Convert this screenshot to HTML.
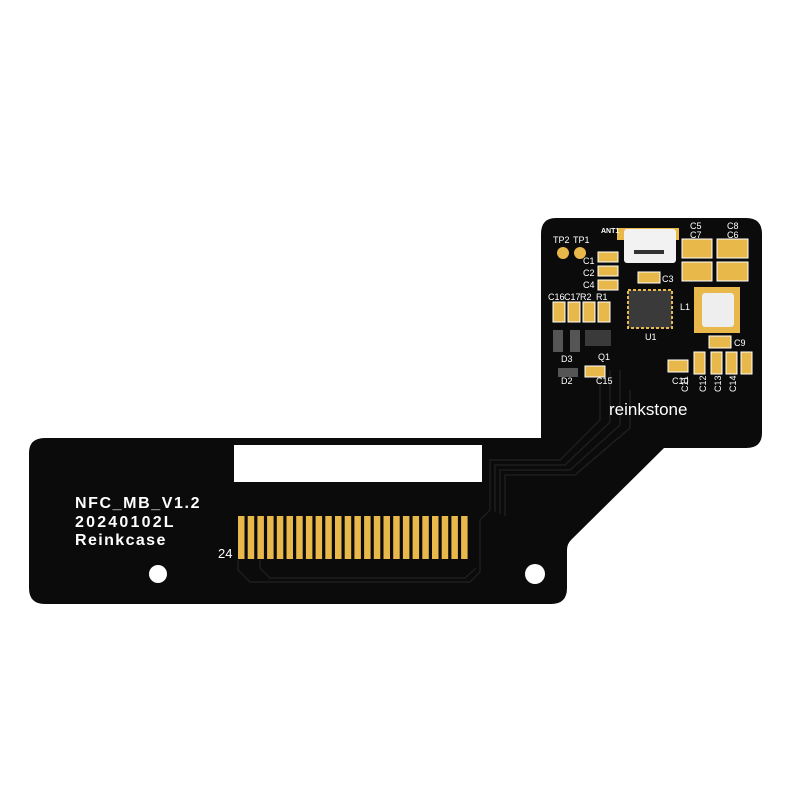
<!DOCTYPE html>
<html><head><meta charset="utf-8"><style>html,body{margin:0;padding:0;background:#fff}svg{display:block}</style></head>
<body>
<svg width="800" height="800" viewBox="0 0 800 800" xmlns="http://www.w3.org/2000/svg" font-family="Liberation Sans, sans-serif">
<path d="M556 218 H746 Q762 218 762 234 V433 Q762 448 746 448 H664 L571 540 Q567 544 567 550 V588 Q567 604 551 604 H45 Q29 604 29 588 V453 Q29 438 45 438 H541 V234 Q541 218 556 218 Z" fill="#0b0b0b"/>
<g fill="none" stroke="#1e1e1e" stroke-width="1.5">
<path d="M600 370 V420 L560 460 H490 V510 L480 520"/>
<path d="M610 370 V422 L565 465 H495 V512"/>
<path d="M620 370 V425 L570 470 H500 V514"/>
<path d="M630 390 V428 L575 475 H505 V516"/>
<path d="M238 560 V570 L250 582 H470 L480 572 V520"/>
<path d="M260 560 V568 L270 578 H465 L476 568"/>
</g>
<rect x="234" y="445" width="248" height="37" fill="#fff"/>
<g fill="#e8b84a">
<rect x="238" y="516" width="6.5" height="43"/><rect x="247.7" y="516" width="6.5" height="43"/><rect x="257.4" y="516" width="6.5" height="43"/><rect x="267.1" y="516" width="6.5" height="43"/><rect x="276.8" y="516" width="6.5" height="43"/><rect x="286.5" y="516" width="6.5" height="43"/><rect x="296.2" y="516" width="6.5" height="43"/><rect x="305.9" y="516" width="6.5" height="43"/><rect x="315.6" y="516" width="6.5" height="43"/><rect x="325.3" y="516" width="6.5" height="43"/><rect x="335" y="516" width="6.5" height="43"/><rect x="344.7" y="516" width="6.5" height="43"/><rect x="354.4" y="516" width="6.5" height="43"/><rect x="364.1" y="516" width="6.5" height="43"/><rect x="373.8" y="516" width="6.5" height="43"/><rect x="383.5" y="516" width="6.5" height="43"/><rect x="393.2" y="516" width="6.5" height="43"/><rect x="402.9" y="516" width="6.5" height="43"/><rect x="412.6" y="516" width="6.5" height="43"/><rect x="422.3" y="516" width="6.5" height="43"/><rect x="432" y="516" width="6.5" height="43"/><rect x="441.7" y="516" width="6.5" height="43"/><rect x="451.4" y="516" width="6.5" height="43"/><rect x="461.1" y="516" width="6.5" height="43"/>
</g>
<circle cx="158" cy="574" r="9" fill="#fff"/><circle cx="535" cy="574" r="10" fill="#fff"/>
<g fill="#fff" font-weight="bold">
<text x="75" y="508" font-size="16" letter-spacing="1.6">NFC_MB_V1.2</text>
<text x="75" y="527" font-size="16" letter-spacing="2.2">20240102L</text>
<text x="75" y="545" font-size="16" letter-spacing="1.4">Reinkcase</text>
</g>
<text x="218" y="558" fill="#fff" font-size="13">24</text>
<text x="609" y="415" fill="#fff" font-size="17">reinkstone</text>
<rect x="617" y="228" width="62" height="12" fill="#e8b84a"/>
<rect x="624" y="229" width="52" height="34" rx="3" fill="#f2f2f2"/>
<rect x="634" y="250" width="30" height="4" fill="#333"/>
<circle cx="563" cy="253" r="6" fill="#e8b84a"/><circle cx="580" cy="253" r="6" fill="#e8b84a"/>
<g fill="#fff" font-size="9"><text x="553" y="243">TP2</text><text x="573" y="243">TP1</text>
<text x="583" y="264">C1</text><text x="583" y="276">C2</text><text x="583" y="288">C4</text>
<text x="662" y="282">C3</text><text x="690" y="229">C5</text><text x="690" y="238">C7</text>
<text x="727" y="229">C8</text><text x="727" y="238">C6</text><text x="680" y="310">L1</text>
<text x="645" y="340">U1</text><text x="734" y="346">C9</text><text x="672" y="384">C10</text>
<text x="548" y="300">C16</text><text x="564" y="300">C17</text><text x="580" y="300">R2</text><text x="596" y="300">R1</text>
<text x="561" y="362">D3</text><text x="561" y="384">D2</text><text x="598" y="360">Q1</text><text x="596" y="384">C15</text>
<text x="601" y="233" font-size="7" font-weight="bold">ANT1</text></g>
<g fill="#e8b84a" stroke="#fff" stroke-width="1">
<rect x="598" y="252" width="20" height="10"/><rect x="598" y="266" width="20" height="10"/><rect x="598" y="280" width="20" height="10"/>
<rect x="638" y="272" width="22" height="11"/>
<rect x="682" y="239" width="30" height="19"/><rect x="717" y="239" width="31" height="19"/>
<rect x="682" y="262" width="30" height="19"/><rect x="717" y="262" width="31" height="19"/>
<rect x="553" y="302" width="12" height="20"/><rect x="568" y="302" width="12" height="20"/><rect x="583" y="302" width="12" height="20"/><rect x="598" y="302" width="12" height="20"/>
<rect x="709" y="336" width="22" height="12"/><rect x="668" y="360" width="20" height="12"/>
<rect x="694" y="352" width="11" height="22"/><rect x="711" y="352" width="11" height="22"/><rect x="726" y="352" width="11" height="22"/><rect x="741" y="352" width="11" height="22"/>
<rect x="585" y="366" width="20" height="11"/>
</g>
<rect x="628" y="290" width="44" height="38" fill="#3a3a3a" stroke="#e8b84a" stroke-width="2" stroke-dasharray="3 2"/>
<rect x="694" y="287" width="46" height="46" fill="#e8b84a"/>
<rect x="702" y="293" width="32" height="34" rx="3" fill="#eee"/>
<rect x="585" y="330" width="26" height="16" fill="#3a3a3a"/>
<rect x="553" y="330" width="10" height="22" fill="#555"/><rect x="570" y="330" width="10" height="22" fill="#555"/>
<rect x="558" y="368" width="20" height="9" fill="#555"/>
<g fill="#fff" font-size="9"><text transform="translate(688 392) rotate(-90)">C11</text><text transform="translate(706 392) rotate(-90)">C12</text><text transform="translate(721 392) rotate(-90)">C13</text><text transform="translate(736 392) rotate(-90)">C14</text></g>
</svg>
</body></html>
